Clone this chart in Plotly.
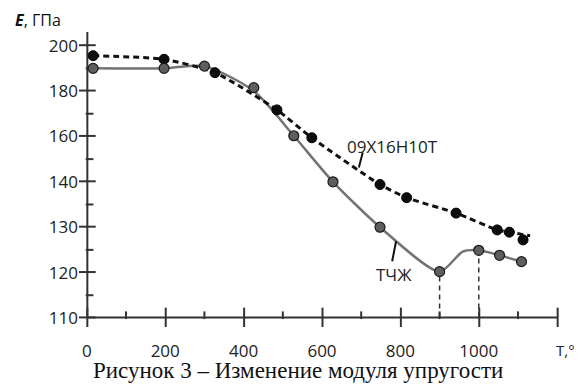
import numpy as np
import plotly.graph_objects as go

# ---- axis definitions (the y scale of the original is piecewise: ticks equally spaced) ----
y_tick_values = [110, 120, 130, 140, 160, 180, 200]
y_tick_labels = ["110", "120", "130", "140", "160", "180", "200"]
y_minor_values = [115, 125, 135, 150, 170, 190]
x_major = [0, 200, 400, 600, 800, 1000, 1200]
x_labels = ["0", "200", "400", "600", "800", "1000", ""]
x_minor = [100, 300, 500, 700, 900, 1100]

# ---- data: steel 09X16H10T (black, dashed) ----
steel_T = [16, 197, 327, 485, 574, 748, 816, 942, 1047, 1078, 1113]
steel_E = [195.6, 194.0, 188.1, 171.7, 159.4, 139.4, 136.5, 133.1, 129.4, 128.9, 127.2]
steel_curve_T = [16, 197, 327, 485, 574, 748, 816, 942, 1047, 1078, 1131]
steel_curve_E = [195.6, 194.0, 188.1, 171.7, 159.4, 139.4, 136.5, 133.1, 129.4, 128.9, 128.1]

# ---- data: ТЧЖ (grey, solid) ----
tchzh_T = [16, 197, 300, 426, 528, 628, 748, 900, 1000, 1053, 1109]
tchzh_E = [190.0, 190.0, 191.0, 181.5, 160.3, 140.0, 130.0, 120.2, 124.9, 123.8, 122.4]
tchzh_curve_T = [16, 197, 300, 426, 528, 628, 748, 900, 959, 1000, 1053, 1109]
tchzh_curve_E = [190.0, 190.0, 191.0, 180.0, 160.3, 140.0, 130.0, 120.2, 124.6, 124.9, 123.8, 122.4]
drop_T = [900, 1000]

# ---- geometry ----
AXIS_TOP = 6.3                 # top of the drawn y axis line (in tick-position units)
x_range = [-20, 1220]
y_range = [-0.2, 6.5]
PX_PER_DEG = 0.3917
PX_PER_POS = 45.43
X0_WIN, Y0_WIN = 87.0, 318.3   # window pixel of the origin (0 °C, 110 GPa)
BODY = 8                       # page body margin
FIG_W, FIG_H = 574, 379

plot_w = (x_range[1] - x_range[0]) * PX_PER_DEG
plot_h = (y_range[1] - y_range[0]) * PX_PER_POS
m_l = X0_WIN - BODY - (0 - x_range[0]) * PX_PER_DEG
m_r = FIG_W - m_l - plot_w
bottom_win = Y0_WIN + (0 - y_range[0]) * PX_PER_POS
m_b = (BODY + FIG_H) - bottom_win
m_t = FIG_H - m_b - plot_h

# half-pixel nudges in data units for the axis lines
EPS_Y = 0.5 / PX_PER_POS
EPS_X = 0.5 / PX_PER_DEG


def to_pos(E):
    return np.interp(np.asarray(E, dtype=float), y_tick_values, np.arange(len(y_tick_values)))


def paper_x(px):
    return (px - BODY - m_l) / plot_w


def paper_y(py):
    return (bottom_win - py) / plot_h


FONT = "Open Sans"
AX = "#333333"
CLEAR = "rgba(0,0,0,0)"

fig = go.Figure()

fig.add_trace(go.Scatter(
    x=tchzh_curve_T, y=to_pos(tchzh_curve_E), mode="lines",
    line=dict(color="#737373", width=2.5, shape="spline", smoothing=0.7),
    hoverinfo="skip", showlegend=False))
fig.add_trace(go.Scatter(
    x=steel_curve_T, y=to_pos(steel_curve_E), mode="lines",
    line=dict(color="#111111", width=3, shape="spline", smoothing=0.6, dash="6px,4px"),
    hoverinfo="skip", showlegend=False))

dx, dy = [], []
for t in drop_T:
    e = tchzh_E[tchzh_T.index(t)]
    dx += [t, t, None]
    dy += [EPS_Y, float(to_pos(e)), None]
fig.add_trace(go.Scatter(x=dx, y=dy, mode="lines",
                         line=dict(color="#333333", width=1.5, dash="5px,4px"),
                         hoverinfo="skip", showlegend=False))

# x axis line
fig.add_trace(go.Scatter(x=[EPS_X, x_major[-1]], y=[EPS_Y, EPS_Y], mode="lines",
                         line=dict(color=AX, width=2),
                         hoverinfo="skip", showlegend=False))
# y axis line
fig.add_trace(go.Scatter(x=[EPS_X, EPS_X], y=[EPS_Y, AXIS_TOP], mode="lines",
                         line=dict(color=AX, width=2),
                         hoverinfo="skip", showlegend=False))
# major tick marks (crossing the axes)
fig.add_trace(go.Scatter(x=[v + EPS_X for v in x_major], y=[EPS_Y] * len(x_major),
                         mode="markers",
                         marker=dict(symbol="line-ns", size=14, color=AX,
                                     line=dict(color=AX, width=2)),
                         hoverinfo="skip", showlegend=False))
fig.add_trace(go.Scatter(x=[EPS_X] * len(y_tick_values),
                         y=[p + EPS_Y for p in range(len(y_tick_values))],
                         mode="markers",
                         marker=dict(symbol="line-ew", size=12, color=AX,
                                     line=dict(color=AX, width=2)),
                         hoverinfo="skip", showlegend=False))
# minor tick marks (inside only)
fig.add_trace(go.Scatter(x=x_minor, y=[2.7 / PX_PER_POS] * len(x_minor), mode="markers",
                         marker=dict(symbol="line-ns", size=5.5, color=AX,
                                     line=dict(color=AX, width=2)),
                         hoverinfo="skip", showlegend=False))
fig.add_trace(go.Scatter(x=[2.7 / PX_PER_DEG] * len(y_minor_values), y=to_pos(y_minor_values),
                         mode="markers",
                         marker=dict(symbol="line-ew", size=5.5, color=AX,
                                     line=dict(color=AX, width=2)),
                         hoverinfo="skip", showlegend=False))

fig.add_trace(go.Scatter(
    x=steel_T, y=to_pos(steel_E), mode="markers", name="09X16H10T",
    marker=dict(size=10, color="#0d0d0d", line=dict(color="#000000", width=1)),
    showlegend=False))
fig.add_trace(go.Scatter(
    x=tchzh_T, y=to_pos(tchzh_E), mode="markers", name="ТЧЖ",
    marker=dict(size=10, color="#5e5e5e", line=dict(color="#1a1a1a", width=1.2)),
    showlegend=False))

# leader lines for the curve labels
fig.add_trace(go.Scatter(x=[704, 694, None, 789, 779],
                         y=[float(to_pos(152.9)), float(to_pos(146.3)), None,
                            float(to_pos(126.9)), float(to_pos(122.5))],
                         mode="lines", line=dict(color="#111111", width=2),
                         hoverinfo="skip", showlegend=False))

tickfont = dict(family=FONT, size=17, color="#222222")

fig.update_layout(
    template="simple_white",
    width=FIG_W, height=FIG_H, autosize=False,
    margin=dict(l=m_l, r=m_r, t=m_t, b=m_b, pad=0),
    paper_bgcolor="white", plot_bgcolor="white",
    xaxis=dict(range=x_range, tickmode="array", tickvals=x_major, ticktext=x_labels,
               ticks="outside", ticklen=7, tickwidth=2, tickcolor=CLEAR,
               showline=False, showgrid=False, zeroline=False,
               tickfont=tickfont, ticklabelstandoff=2),
    yaxis=dict(range=y_range, tickmode="array",
               tickvals=list(range(len(y_tick_values))), ticktext=y_tick_labels,
               ticks="", showline=False, showgrid=False, zeroline=False,
               tickfont=tickfont),
)

fig.add_annotation(x=781, y=float(to_pos(155.5)), xref="x", yref="y",
                   text="09X16H10T", showarrow=False,
                   font=dict(family=FONT, size=17, color="#222222"))
fig.add_annotation(x=784, y=float(to_pos(119.5)), xref="x", yref="y",
                   text="ТЧЖ", showarrow=False,
                   font=dict(family=FONT, size=17, color="#222222"))

fig.add_annotation(x=paper_x(13), y=paper_y(20), xref="paper", yref="paper",
                   xanchor="left", yanchor="middle", showarrow=False,
                   text="<b><i>E</i></b>, ГПа",
                   font=dict(family=FONT, size=16, color="#111111"))
fig.add_annotation(x=paper_x(554), y=paper_y(350), xref="paper", yref="paper",
                   xanchor="left", yanchor="middle", showarrow=False,
                   text="T,°C", font=dict(family=FONT, size=15, color="#222222"))
fig.add_annotation(x=paper_x(298), y=paper_y(371), xref="paper", yref="paper",
                   xanchor="center", yanchor="middle", showarrow=False,
                   text="Рисунок 3 – Изменение модуля упругости",
                   font=dict(family="Liberation Serif", size=23, color="#111111"))

fig.write_html("out.html")
